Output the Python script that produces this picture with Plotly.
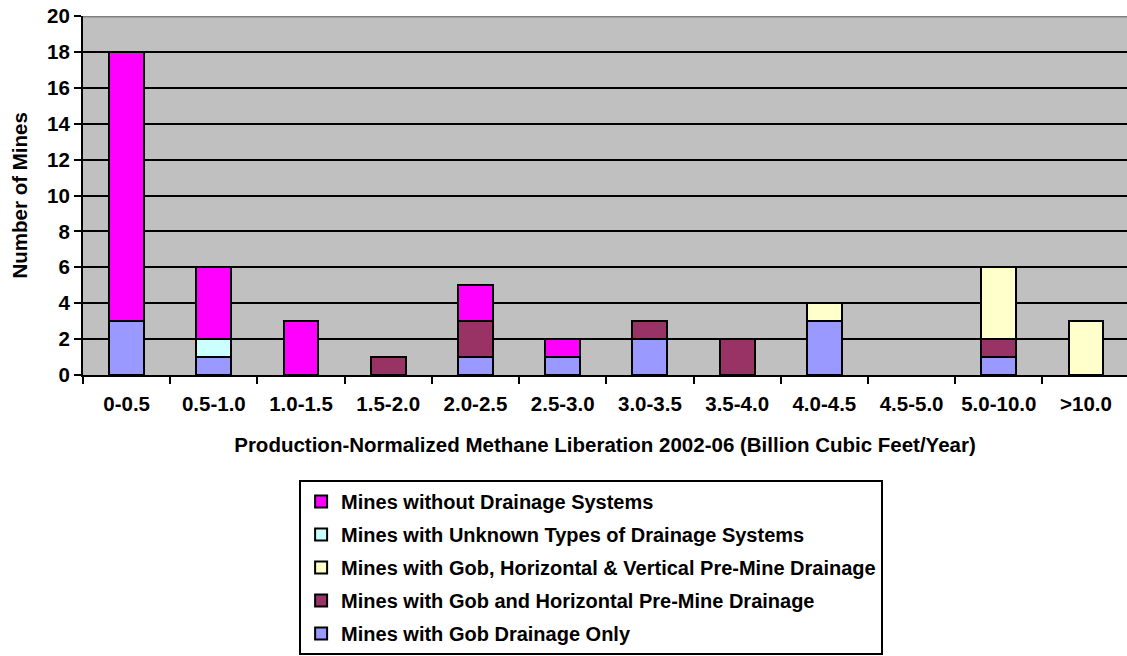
import plotly.graph_objects as go

categories = ["0-0.5", "0.5-1.0", "1.0-1.5", "1.5-2.0", "2.0-2.5", "2.5-3.0",
              "3.0-3.5", "3.5-4.0", "4.0-4.5", "4.5-5.0", "5.0-10.0", ">10.0"]

gob_only = [3, 1, 0, 0, 1, 1, 2, 0, 3, 0, 1, 0]
gob_horizontal = [0, 0, 0, 1, 2, 0, 1, 2, 0, 0, 1, 0]
gob_horiz_vertical = [0, 0, 0, 0, 0, 0, 0, 0, 1, 0, 4, 3]
unknown_types = [0, 1, 0, 0, 0, 0, 0, 0, 0, 0, 0, 0]
no_drainage = [15, 4, 3, 0, 2, 1, 0, 0, 0, 0, 0, 0]

series = [
    ("Mines with Gob Drainage Only", gob_only, "#9999FF"),
    ("Mines with Gob and Horizontal Pre-Mine Drainage", gob_horizontal, "#993366"),
    ("Mines with Gob, Horizontal & Vertical Pre-Mine Drainage", gob_horiz_vertical, "#FFFFCC"),
    ("Mines with Unknown Types of Drainage Systems", unknown_types, "#CCFFFF"),
    ("Mines without Drainage Systems", no_drainage, "#FF00FF"),
]

FONT = "Liberation Sans, Arial, sans-serif"
FS = 20.5

fig = go.Figure()
for i, (name, vals, color) in enumerate(series):
    # empty segments are skipped so no outline is drawn for them
    fig.add_trace(go.Bar(
        x=categories, y=[v if v else None for v in vals], name=name,
        legendgroup=f"g{i}", legendrank=1000 - i,
        marker=dict(color=color, line=dict(color="black", width=2)),
        width=0.4,
    ))

fig.update_layout(
    width=1127, height=656,
    barmode="stack",
    plot_bgcolor="#C0C0C0",
    paper_bgcolor="white",
    margin=dict(l=83, r=0, t=16, b=281, autoexpand=False),
    font=dict(family=FONT, size=FS, color="black"),
    xaxis=dict(
        range=[-0.5, 11.47],
        showgrid=False,
        ticks="outside", ticklen=7, tickwidth=2, tickcolor="black",
        tickson="boundaries",
        ticklabelstandoff=9,
        showline=True, linecolor="black", linewidth=2,
        tickfont=dict(family=FONT, size=FS, weight="bold"),
        title=dict(text="Production-Normalized Methane Liberation 2002-06 (Billion Cubic Feet/Year)",
                   font=dict(family=FONT, size=FS, weight="bold"), standoff=24),
    ),
    yaxis=dict(
        range=[0, 20], dtick=2,
        showgrid=True, gridcolor="black", gridwidth=2,
        ticks="outside", ticklen=7, tickwidth=2, tickcolor="black",
        showline=True, linecolor="black", linewidth=2,
        zeroline=False,
        tickfont=dict(family=FONT, size=FS, weight="bold"),
    ),
    legend=dict(
        traceorder="grouped",
        x=0.207, xanchor="left", y=-0.2925, yanchor="top",
        bordercolor="black", borderwidth=2, bgcolor="white",
        font=dict(family=FONT, size=20, weight="bold"),
        tracegroupgap=4,
    ),
    annotations=[dict(
        text="<b>Number of Mines</b>", textangle=-90,
        xref="paper", yref="paper", x=-0.0613, y=0.5,
        xanchor="center", yanchor="middle", showarrow=False,
        font=dict(family=FONT, size=FS),
    )],
    shapes=[dict(type="line", xref="paper", yref="y", x0=0, x1=1, y0=20, y1=20,
                 line=dict(color="#808080", width=3))],
)

fig.write_html("out.html")
